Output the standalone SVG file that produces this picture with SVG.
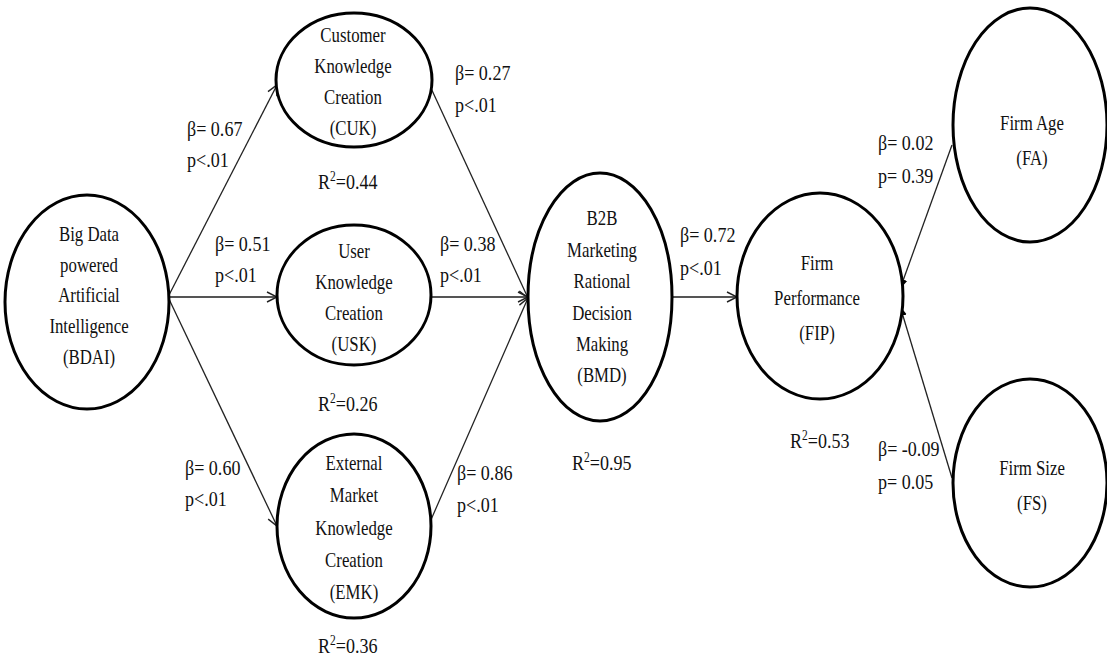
<svg xmlns="http://www.w3.org/2000/svg" width="1107" height="661" viewBox="0 0 1107 661">
<defs>
<style>
.node ellipse{fill:#fff;stroke:#000;stroke-width:3}
.n{font-family:'Liberation Serif','Times New Roman',Tinos,'DejaVu Serif',serif;font-size:21px;fill:#111;text-anchor:middle}
.l{font-family:'Liberation Serif','Times New Roman',Tinos,'DejaVu Serif',serif;font-size:22px;fill:#111}
.c{stroke:#222;stroke-width:1.3;fill:none}
.h{stroke:#555;stroke-width:2.2;fill:none}
</style>
<marker id="open" viewBox="0 0 12 12" refX="11" refY="6" markerWidth="12" markerHeight="12" markerUnits="userSpaceOnUse" orient="auto">
<path d="M1,1 L11,6 L1,11" fill="none" stroke="#222" stroke-width="1.4"/>
</marker>
<marker id="fill" viewBox="0 0 10 10" refX="10" refY="5" markerWidth="10" markerHeight="10" markerUnits="userSpaceOnUse" orient="auto">
<path d="M0,1 L10,5 L0,9 Z" fill="#000"/>
</marker>
</defs>
<rect width="1107" height="661" fill="#fff"/>
<g id="connectors">
<line class="c" x1="168" y1="297" x2="277" y2="85" marker-end="url(#open)"/>
<line class="h" x1="168" y1="297" x2="277" y2="297" marker-end="url(#open)"/>
<line class="c" x1="168" y1="297" x2="277" y2="526" marker-end="url(#open)"/>
<line class="c" x1="430" y1="86" x2="528" y2="298" marker-end="url(#open)"/>
<line class="h" x1="430" y1="297" x2="528" y2="297" marker-end="url(#open)"/>
<line class="c" x1="430" y1="522" x2="528" y2="298" marker-end="url(#open)"/>
<line class="h" x1="673" y1="297" x2="737" y2="297" marker-end="url(#open)"/>
<line class="c" x1="952" y1="145" x2="900" y2="289" marker-end="url(#fill)"/>
<line class="c" x1="952" y1="478" x2="900" y2="306" marker-end="url(#fill)"/>
</g>
<g id="BDAI" class="node">
<ellipse cx="87" cy="302" rx="82" ry="107"/>
<text class="n" transform="translate(89 0) scale(0.8 1)"><tspan x="0" y="241">Big Data</tspan><tspan x="0" y="272">powered</tspan><tspan x="0" y="302">Artificial</tspan><tspan x="0" y="333">Intelligence</tspan><tspan x="0" y="364">(BDAI)</tspan></text>
</g>
<g id="CUK" class="node">
<ellipse cx="354" cy="80" rx="78" ry="67"/>
<text class="n" transform="translate(353 0) scale(0.8 1)"><tspan x="0" y="42">Customer</tspan><tspan x="0" y="73">Knowledge</tspan><tspan x="0" y="104">Creation</tspan><tspan x="0" y="135">(CUK)</tspan></text>
</g>
<g id="USK" class="node">
<ellipse cx="354" cy="295" rx="77" ry="70"/>
<text class="n" transform="translate(354 0) scale(0.8 1)"><tspan x="0" y="258">User</tspan><tspan x="0" y="289">Knowledge</tspan><tspan x="0" y="320">Creation</tspan><tspan x="0" y="351">(USK)</tspan></text>
</g>
<g id="EMK" class="node">
<ellipse cx="354" cy="526" rx="77" ry="92"/>
<text class="n" transform="translate(354 0) scale(0.8 1)"><tspan x="0" y="470">External</tspan><tspan x="0" y="502">Market</tspan><tspan x="0" y="535">Knowledge</tspan><tspan x="0" y="567">Creation</tspan><tspan x="0" y="599">(EMK)</tspan></text>
</g>
<g id="BMD" class="node">
<ellipse cx="600" cy="297" rx="72" ry="124"/>
<text class="n" transform="translate(602 0) scale(0.8 1)"><tspan x="0" y="225">B2B</tspan><tspan x="0" y="257">Marketing</tspan><tspan x="0" y="288">Rational</tspan><tspan x="0" y="320">Decision</tspan><tspan x="0" y="351">Making</tspan><tspan x="0" y="382">(BMD)</tspan></text>
</g>
<g id="FIP" class="node">
<ellipse cx="820" cy="296" rx="83" ry="103"/>
<text class="n" transform="translate(817 0) scale(0.8 1)"><tspan x="0" y="270">Firm</tspan><tspan x="0" y="305">Performance</tspan><tspan x="0" y="340">(FIP)</tspan></text>
</g>
<g id="FA" class="node">
<ellipse cx="1030" cy="125" rx="77" ry="117"/>
<text class="n" transform="translate(1032 0) scale(0.8 1)"><tspan x="0" y="130">Firm Age</tspan><tspan x="0" y="165">(FA)</tspan></text>
</g>
<g id="FS" class="node">
<ellipse cx="1030" cy="483" rx="77" ry="104"/>
<text class="n" transform="translate(1032 0) scale(0.8 1)"><tspan x="0" y="475">Firm Size</tspan><tspan x="0" y="510">(FS)</tspan></text>
</g>
<g id="labels">
<text class="l" transform="translate(187 0) scale(0.82 1)"><tspan x="0" y="136">β= 0.67</tspan><tspan x="0" y="167">p&lt;.01</tspan></text>
<text class="l" transform="translate(215 0) scale(0.82 1)"><tspan x="0" y="251">β= 0.51</tspan><tspan x="0" y="282">p&lt;.01</tspan></text>
<text class="l" transform="translate(185 0) scale(0.82 1)"><tspan x="0" y="475">β= 0.60</tspan><tspan x="0" y="506">p&lt;.01</tspan></text>
<text class="l" transform="translate(455 0) scale(0.82 1)"><tspan x="0" y="80">β= 0.27</tspan><tspan x="0" y="112">p&lt;.01</tspan></text>
<text class="l" transform="translate(440 0) scale(0.82 1)"><tspan x="0" y="251">β= 0.38</tspan><tspan x="0" y="282">p&lt;.01</tspan></text>
<text class="l" transform="translate(457 0) scale(0.82 1)"><tspan x="0" y="480">β= 0.86</tspan><tspan x="0" y="512">p&lt;.01</tspan></text>
<text class="l" transform="translate(680 0) scale(0.82 1)"><tspan x="0" y="242">β= 0.72</tspan><tspan x="0" y="275">p&lt;.01</tspan></text>
<text class="l" transform="translate(878 0) scale(0.82 1)"><tspan x="0" y="150">β= 0.02</tspan><tspan x="0" y="183">p= 0.39</tspan></text>
<text class="l" transform="translate(878 0) scale(0.82 1)"><tspan x="0" y="456">β= -0.09</tspan><tspan x="0" y="489">p= 0.05</tspan></text>
<text class="l" transform="translate(318 0) scale(0.82 1)"><tspan x="0" y="189">R</tspan><tspan dy="-8" font-size="14">2</tspan><tspan dy="8">=0.44</tspan></text>
<text class="l" transform="translate(318 0) scale(0.82 1)"><tspan x="0" y="411">R</tspan><tspan dy="-8" font-size="14">2</tspan><tspan dy="8">=0.26</tspan></text>
<text class="l" transform="translate(318 0) scale(0.82 1)"><tspan x="0" y="653">R</tspan><tspan dy="-8" font-size="14">2</tspan><tspan dy="8">=0.36</tspan></text>
<text class="l" transform="translate(572 0) scale(0.82 1)"><tspan x="0" y="470">R</tspan><tspan dy="-8" font-size="14">2</tspan><tspan dy="8">=0.95</tspan></text>
<text class="l" transform="translate(790 0) scale(0.82 1)"><tspan x="0" y="448">R</tspan><tspan dy="-8" font-size="14">2</tspan><tspan dy="8">=0.53</tspan></text>
</g>
</svg>
